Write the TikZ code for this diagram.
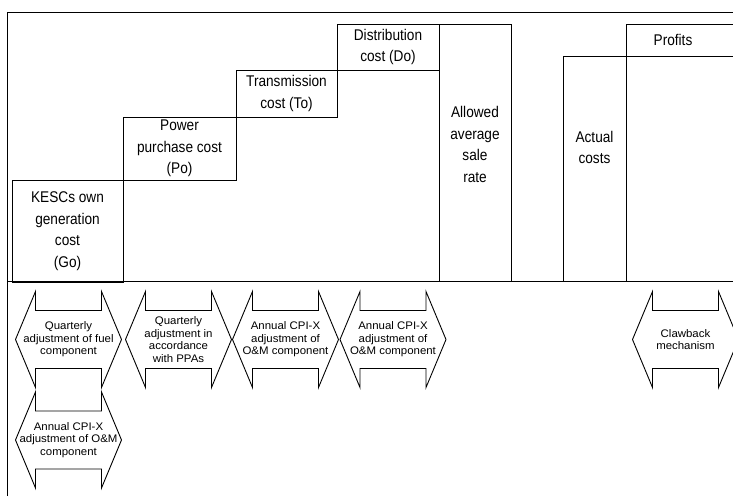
\documentclass[tikz,border=0pt]{standalone}
\usepackage{fontspec}
\setmainfont{Liberation Sans}[FakeStretch=0.88]
\newfontfamily\arrfont{Liberation Sans}[FakeStretch=1.04]
\usetikzlibrary{calc}
\tikzset{
  ln/.style={line width=0.9pt, draw=black},
  costbox/.style={ln, draw, rectangle, inner sep=0pt, align=center,
    font=\fontsize{15.5}{21.5}\selectfont},
  lbl/.style={inner sep=0pt, align=center, font=\fontsize{15.5}{21.5}\selectfont},
  arrtext/.style={inner sep=0pt, align=center, font=\arrfont\fontsize{11}{12.5}\selectfont},
}
\newcommand\dblarr[3]{%
  \node[arrtext] (#2) at (#1) {#3};
  \draw[ln, line join=miter] ($(#2.center)+(-53,0)$) -- ++(20,-48) -- ++(0,19) -- ++(66,0) -- ++(0,-19)
    -- ++(20,48) -- ++(-20,48) -- ++(0,-19) -- ++(-66,0) -- ++(0,19) -- cycle;
}
\begin{document}
\begin{tikzpicture}[x=1pt,y=-1pt]
\useasboundingbox (0,0) rectangle (733,496);
% frame
\draw[ln] (7,496) -- (7,12) -- (745,12);
\draw[ln] (7,281.5) -- (745,281.5);
% cost boxes
\node[costbox, minimum width=111pt, minimum height=102pt] (go) at (67.5,231) {KESCs own\\generation\\cost\\(Go)};
\node[costbox, minimum width=113pt, minimum height=63pt] (po) at (179.5,148.5) {Power\\purchase cost\\(Po)};
\node[costbox, minimum width=101pt, minimum height=47pt] (to) at (286.5,93.5) {Transmission\\cost (To)};
\node[costbox, minimum width=102pt, minimum height=46pt] (do) at (388,47) {Distribution\\cost (Do)};
\node[costbox, minimum width=72pt, minimum height=257pt] (allowed) at (475,152.5) {};
\node[lbl] (allowedt) at (475,144.5) {Allowed\\average\\sale\\rate};
\node[costbox, minimum width=63pt, minimum height=225pt] (actual) at (594.5,168.5) {};
\node[lbl] (actualt) at (594.5,147.5) {Actual\\costs};
\node[costbox, minimum width=130pt, minimum height=32pt] (profits) at (691,40) {};
\node[lbl] (profitst) at (673,40) {Profits};
\node[costbox, minimum width=130pt, minimum height=225pt] (rest) at (691,168.5) {};
% adjustment arrows
\dblarr{68.5,339.5}{a1}{Quarterly\\adjustment of fuel\\component}
\dblarr{178.5,339.5}{a2}{Quarterly\\adjustment in\\accordance\\with PPAs}
\dblarr{285.5,339.5}{a3}{Annual CPI-X\\adjustment of\\O\&M component}
\dblarr{393,339.5}{a4}{Annual CPI-X\\adjustment of\\O\&M component}
\dblarr{685.5,339.5}{a5}{Clawback\\mechanism}
\dblarr{68.5,440}{a6}{Annual CPI-X\\adjustment of O\&M\\component}
\end{tikzpicture}
\end{document}
